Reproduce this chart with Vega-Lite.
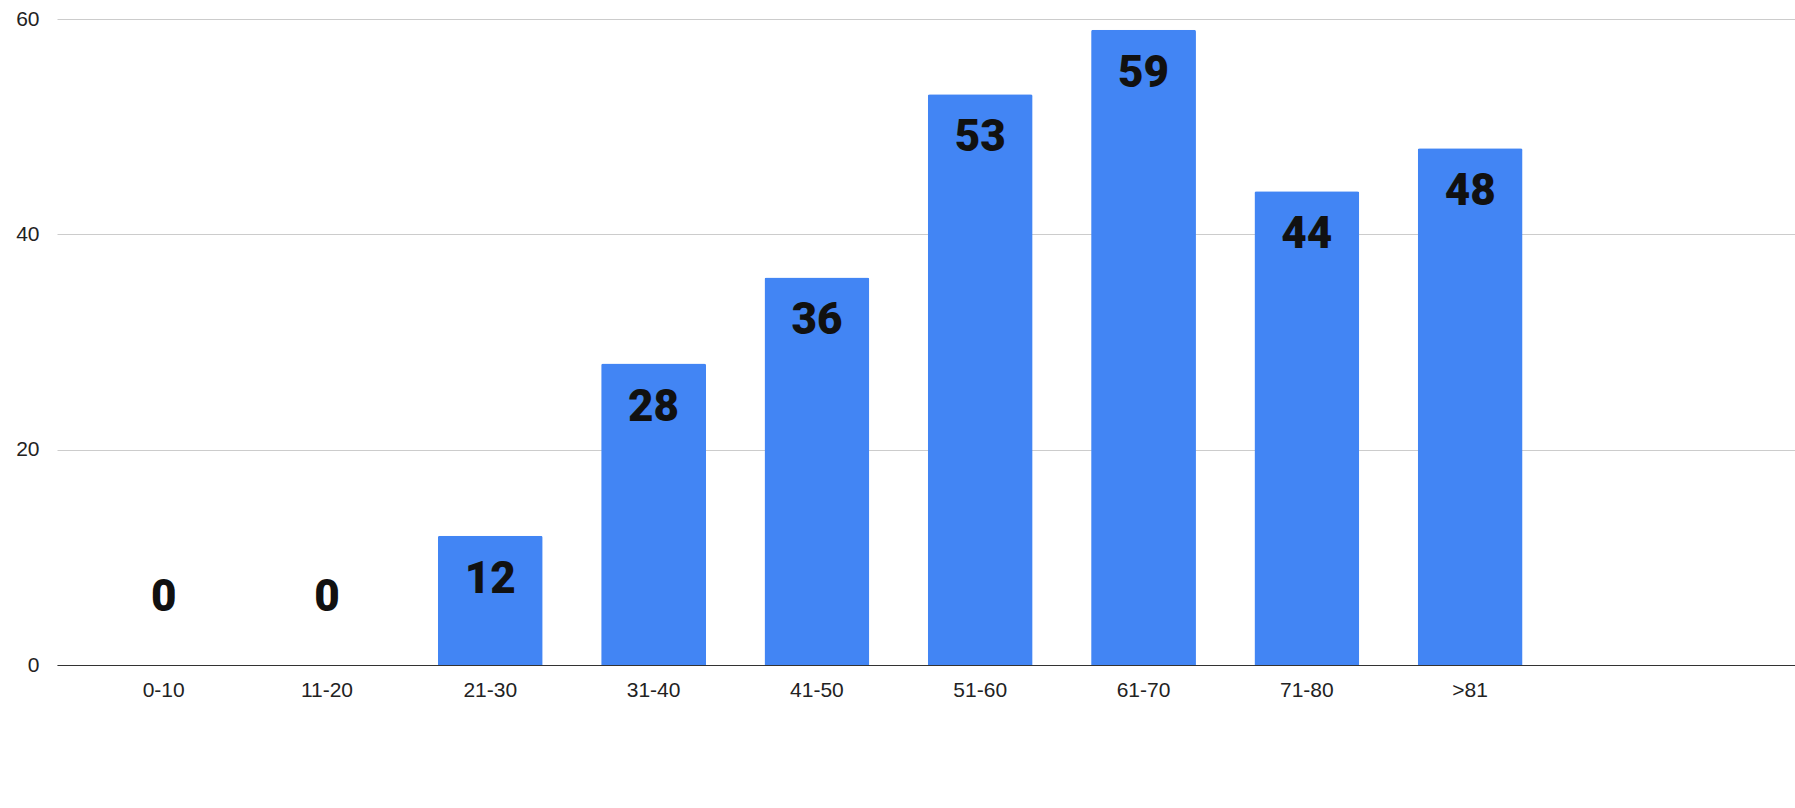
{
  "$schema": "https://vega.github.io/schema/vega-lite/v6.json",
  "width": 1738,
  "height": 646,
  "autosize": "none",
  "padding": {"left": 57, "top": 19, "right": 0, "bottom": 143},
  "data": {
    "values": [
      {"age": "0-10", "count": 0},
      {"age": "11-20", "count": 0},
      {"age": "21-30", "count": 12},
      {"age": "31-40", "count": 28},
      {"age": "41-50", "count": 36},
      {"age": "51-60", "count": 53},
      {"age": "61-70", "count": 59},
      {"age": "71-80", "count": 44},
      {"age": ">81", "count": 48}
    ]
  },
  "encoding": {
    "x": {
      "field": "age",
      "type": "nominal",
      "sort": null,
      "title": null,
      "scale": {"paddingInner": 0.358, "paddingOuter": 1.04, "align": 0.166},
      "axis": {"labelAngle": 0, "ticks": false, "domainColor": "#333333", "labelFontSize": 21, "labelColor": "#222222", "labelFont": "Liberation Sans", "labelPadding": 14}
    },
    "y": {
      "field": "count",
      "type": "quantitative",
      "title": null,
      "scale": {"domain": [0, 60]},
      "axis": {"values": [0, 20, 40, 60], "domain": false, "ticks": false, "labelFontSize": 21, "labelColor": "#222222", "labelFont": "Liberation Sans", "labelPadding": 18, "gridColor": "#cccccc"}
    }
  },
  "layer": [
    {"mark": {"type": "bar", "color": "#4285F4", "cornerRadiusTopLeft": 2, "cornerRadiusTopRight": 2}},
    {
      "transform": [{"filter": "datum.count > 0"}],
      "mark": {"type": "text", "dy": 44, "baseline": "middle", "fontSize": 44, "fontWeight": 900, "font": "Roboto", "color": "#111111"},
      "encoding": {"text": {"field": "count"}}
    },
    {
      "transform": [{"filter": "datum.count == 0"}],
      "mark": {"type": "text", "dy": -67, "baseline": "middle", "fontSize": 44, "fontWeight": 900, "font": "Roboto", "color": "#111111"},
      "encoding": {"text": {"field": "count"}}
    }
  ],
  "config": {"view": {"stroke": null}}
}
